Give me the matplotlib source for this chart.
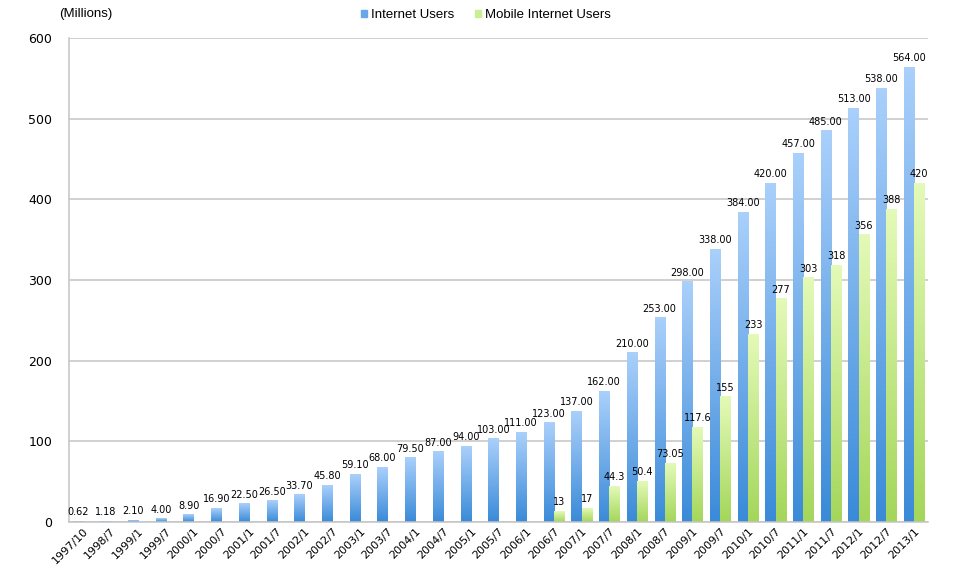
import numpy as np
import matplotlib.pyplot as plt
from matplotlib.colors import LinearSegmentedColormap

periods = ['1997/10', '1998/7', '1999/1', '1999/7', '2000/1', '2000/7', '2001/1', '2001/7',
           '2002/1', '2002/7', '2003/1', '2003/7', '2004/1', '2004/7', '2005/1', '2005/7',
           '2006/1', '2006/7', '2007/1', '2007/7', '2008/1', '2008/7', '2009/1', '2009/7',
           '2010/1', '2010/7', '2011/1', '2011/7', '2012/1', '2012/7', '2013/1']
internet = [0.62, 1.18, 2.10, 4.00, 8.90, 16.90, 22.50, 26.50, 33.70, 45.80, 59.10, 68.00,
            79.50, 87.00, 94.00, 103.00, 111.00, 123.00, 137.00, 162.00, 210.00, 253.00,
            298.00, 338.00, 384.00, 420.00, 457.00, 485.00, 513.00, 538.00, 564.00]
mobile_start = '2006/7'
mobile = [13, 17, 44.3, 50.4, 73.05, 117.6, 155, 233, 277, 303, 318, 356, 388, 420]
mobile_labels = ['13', '17', '44.3', '50.4', '73.05', '117.6', '155', '233', '277', '303',
                 '318', '356', '388', '420']

fig = plt.figure(figsize=(9.69, 5.69), dpi=100)
ax = fig.add_axes([69 / 969, 47 / 569, 859 / 969, 484 / 569])

x = np.arange(len(periods))
w = 0.37
m0 = periods.index(mobile_start)
xm = x[m0:m0 + len(mobile)]

b1 = ax.bar(x - w / 2, internet, w, color='#7fb3ef', zorder=2)
b2 = ax.bar(xm + w / 2, mobile, w, color='#c8ef90', zorder=2)

blue = LinearSegmentedColormap.from_list('b', ['#3a8ad8', '#aad0fb'])
green = LinearSegmentedColormap.from_list('g', ['#a4d65a', '#e4fab8'])
grad = np.linspace(0, 1, 256).reshape(-1, 1)
for bars, cmap in ((b1, blue), (b2, green)):
    for p in bars:
        x0, y0 = p.get_x(), p.get_y()
        x1, y1 = x0 + p.get_width(), y0 + p.get_height()
        p.set_facecolor('none')
        ax.imshow(grad, cmap=cmap, origin='lower', aspect='auto',
                  extent=(x0, x1, y0, y1), zorder=2)

for xi, v in zip(x, internet):
    ax.text(xi - w / 2, v + 5, f'{v:.2f}', ha='center', va='bottom', fontsize=7)
for xi, v, s in zip(xm, mobile, mobile_labels):
    ax.text(xi + w / 2, v + 5, s, ha='center', va='bottom', fontsize=7)

ax.set_xlim(-0.5, len(periods) - 0.5)
ax.set_ylim(0, 600)
ax.set_yticks(range(0, 601, 100))
ax.yaxis.grid(True, color='#c4c4c4', linewidth=1.1, zorder=0)
ax.set_axisbelow(True)
ax.set_xticks(x)
ax.set_xticklabels(periods, rotation=45, ha='right', rotation_mode='anchor', fontsize=8)
ax.tick_params(axis='y', length=0, labelsize=9, pad=12)
ax.tick_params(axis='x', length=0, pad=3)
for s in ('top', 'right'):
    ax.spines[s].set_visible(False)
for s in ('left', 'bottom'):
    ax.spines[s].set_color('#c4c4c4')
    ax.spines[s].set_linewidth(1.1)

fig.text(59 / 969, 1 - 14 / 569, '(Millions)', fontsize=9.5, va='center',
         family='Liberation Sans')
h1 = plt.Rectangle((0, 0), 1, 1, color='#6aa6ea')
h2 = plt.Rectangle((0, 0), 1, 1, color='#c8ef90')
fig.legend([h1, h2], ['Internet Users', 'Mobile Internet Users'], loc='center',
           bbox_to_anchor=(486 / 969, 1 - 15 / 569), ncol=2, frameon=False,
           prop={'family': 'Liberation Sans', 'size': 9.5},
           handlelength=0.45, handleheight=0.45, handletextpad=0.3, columnspacing=1.6)

fig.savefig('out.png', dpi=100)
